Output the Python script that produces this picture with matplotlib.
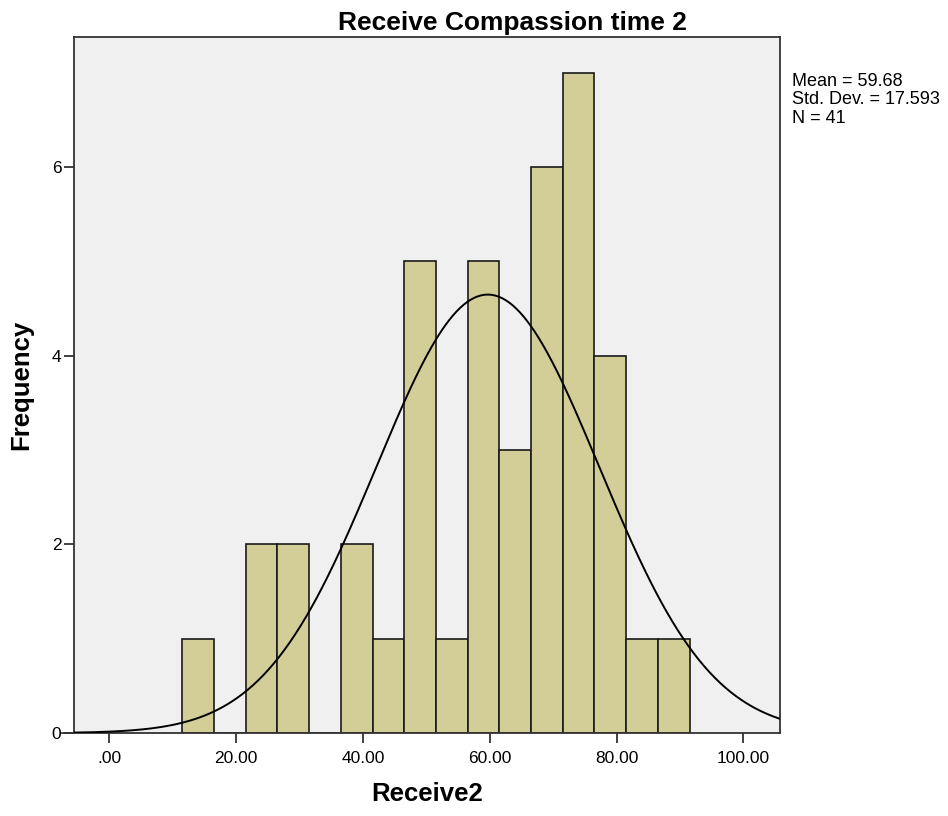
import matplotlib.pyplot as plt
import numpy as np

plt.rcParams["font.family"] = ["Liberation Sans", "DejaVu Sans"]

# Binned frequencies for Receive2 (bin width 5)
bin_edges = [11.5, 16.5, 21.5, 26.5, 31.5, 36.5, 41.5, 46.5, 51.5,
             56.5, 61.5, 66.5, 71.5, 76.5, 81.5, 86.5, 91.5]
counts = [1, 0, 2, 2, 0, 2, 1, 5, 1, 5, 3, 6, 7, 4, 1, 1]

mean = 59.68
std = 17.593
n = 41
xticks = [0, 20, 40, 60, 80, 100]
xtick_labels = [".00", "20.00", "40.00", "60.00", "80.00", "100.00"]
yticks = [0, 2, 4, 6]

fig = plt.figure(figsize=(9.48, 8.16), dpi=100)
ax = fig.add_axes([0.078, 0.1017, 0.745, 0.853])
ax.set_facecolor("#f0f0f0")

widths = np.diff(bin_edges)
ax.bar(bin_edges[:-1], counts, width=widths, align="edge",
       color="#d3ce97", edgecolor="#1a1a1a", linewidth=1.2, zorder=2)

# Normal curve scaled to the histogram
xs = np.linspace(-5.6, 105.8, 400)
bw = widths[0]
ys = n * bw / (std * np.sqrt(2 * np.pi)) * np.exp(-0.5 * ((xs - mean) / std) ** 2)
ax.plot(xs, ys, color="black", linewidth=1.4, zorder=3)

ax.set_xlim(-5.6, 105.8)
ax.set_ylim(0, 7.38)
ax.set_xticks(xticks)
ax.set_xticklabels(xtick_labels)
ax.set_yticks(yticks)
ax.tick_params(axis="both", labelsize=12.5, length=7, width=1.3, color="#333333")
ax.tick_params(axis="x", pad=6)
ax.tick_params(axis="y", pad=2)

for side in ["left", "right", "top", "bottom"]:
    ax.spines[side].set_color("#333333")
    ax.spines[side].set_linewidth(1.3)

# baseline runs a little past the left spine
ax.plot([-0.017, 0], [0, 0], transform=ax.transAxes, color="#333333",
        linewidth=1.3, clip_on=False)

fig.text(0.541, 0.963, "Receive Compassion time 2", fontsize=19,
         fontweight="bold", ha="center", va="baseline")
ax.set_xlabel("Receive2", fontsize=18.5, fontweight="bold")
ax.set_ylabel("Frequency", fontsize=18.5, fontweight="bold")
ax.xaxis.set_label_coords(0.5, -0.070)
ax.yaxis.set_label_coords(-0.057, 0.5)

fig.text(0.8354, 0.910, f"Mean = {mean}\nStd. Dev. = {std}\nN = {n}",
         fontsize=13, va="top", ha="left", linespacing=1.08)

fig.savefig("out.png", dpi=100)
